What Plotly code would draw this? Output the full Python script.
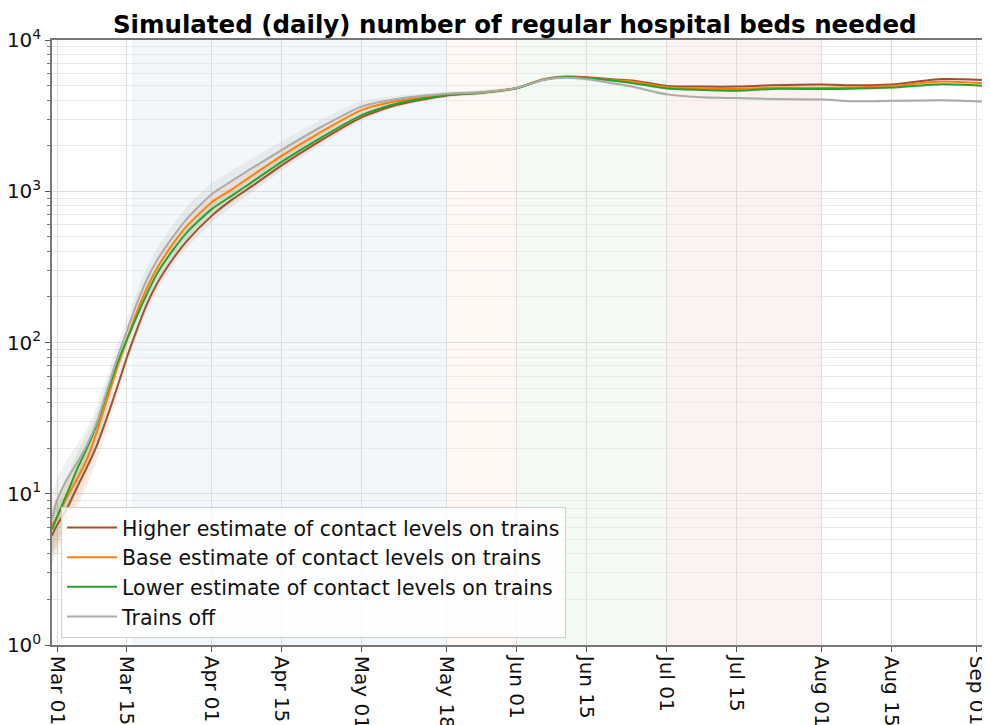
import plotly.graph_objects as go

dates = ["2020-02-29", "2020-03-01", "2020-03-03", "2020-03-05", "2020-03-07", "2020-03-09",
         "2020-03-11", "2020-03-13", "2020-03-15", "2020-03-17", "2020-03-19", "2020-03-21",
         "2020-03-24", "2020-03-27", "2020-04-01", "2020-04-05", "2020-04-09", "2020-04-15",
         "2020-04-22", "2020-05-01", "2020-05-08", "2020-05-18", "2020-05-25", "2020-06-01",
         "2020-06-06", "2020-06-10", "2020-06-15", "2020-06-20", "2020-06-24", "2020-07-01",
         "2020-07-08", "2020-07-15", "2020-07-22", "2020-08-01", "2020-08-08", "2020-08-15",
         "2020-08-25", "2020-09-02"]

higher = [5.3, 6.2, 8, 11, 15, 21, 32, 50, 80, 122, 180, 245, 350, 470, 690, 880, 1080, 1490,
          2090, 3090, 3730, 4300, 4480, 4820, 5470, 5720, 5680, 5500, 5400, 4970, 4920, 4920,
          5020, 5080, 5020, 5080, 5520, 5440]
base = [6.2, 7, 9.5, 12.5, 17, 26, 42, 68, 105, 160, 230, 310, 440, 590, 850, 1030, 1270, 1720,
        2380, 3450, 3950, 4380, 4500, 4820, 5450, 5680, 5620, 5430, 5310, 4870, 4770, 4740,
        4840, 4840, 4870, 4970, 5310, 5170]
lower = [5.8, 7, 10, 14.5, 20, 29, 46, 72, 105, 150, 210, 285, 400, 535, 765, 935, 1150, 1570,
         2180, 3200, 3800, 4330, 4490, 4800, 5430, 5680, 5600, 5400, 5200, 4780, 4680, 4620,
         4750, 4740, 4770, 4850, 5100, 4990]
trains_off = [6.8, 9, 12.5, 16, 21, 30, 48, 78, 120, 182, 262, 350, 490, 660, 960, 1170, 1420,
              1880, 2570, 3640, 4080, 4420, 4520, 4820, 5420, 5620, 5500, 5180, 4920, 4370,
              4180, 4130, 4070, 4040, 3930, 3960, 4000, 3920]

# relative half-width of the shaded uncertainty bands
spread_trains = [0.4, 0.4, 0.35, 0.32, 0.3, 0.28, 0.25, 0.22, 0.2, 0.2, 0.2, 0.2, 0.2, 0.2,
                 0.18, 0.17, 0.16, 0.14, 0.12, 0.08, 0.05, 0.03, 0.03, 0.02, 0.02, 0.02, 0.02,
                 0.02, 0.02, 0.02, 0.02, 0.02, 0.02, 0.02, 0.02, 0.02, 0.02, 0.02]
spread_other = [0.35, 0.35, 0.3, 0.27, 0.24, 0.2, 0.17, 0.14, 0.12, 0.1, 0.1, 0.1, 0.1, 0.1,
                0.1, 0.1, 0.09, 0.08, 0.07, 0.05, 0.04, 0.03, 0.03, 0.02, 0.02, 0.02, 0.02,
                0.02, 0.02, 0.02, 0.02, 0.02, 0.02, 0.02, 0.02, 0.02, 0.02, 0.02]

series_names = ["Higher estimate of contact levels on trains",
                "Base estimate of contact levels on trains",
                "Lower estimate of contact levels on trains",
                "Trains off"]
series_values = [higher, base, lower, trains_off]
series_spread = [spread_other, spread_other, spread_other, spread_trains]
line_colors = ["#a0522d", "#ff7f0e", "#2ca02c", "#ababab"]
band_colors = ["rgba(160,82,45,0.10)", "rgba(255,127,14,0.10)",
               "rgba(44,160,44,0.10)", "rgba(150,150,150,0.13)"]

periods = [("2020-03-16", "2020-05-18", "rgba(31,119,180,0.06)"),
           ("2020-05-18", "2020-06-01", "rgba(255,127,14,0.06)"),
           ("2020-06-01", "2020-07-01", "rgba(44,160,44,0.06)"),
           ("2020-07-01", "2020-08-01", "rgba(214,39,40,0.06)")]

x_ticks = ["2020-03-01", "2020-03-15", "2020-04-01", "2020-04-15", "2020-05-01", "2020-05-18",
           "2020-06-01", "2020-06-15", "2020-07-01", "2020-07-15", "2020-08-01", "2020-08-15",
           "2020-09-01"]
y_ticks = [1, 10, 100, 1000, 10000]
y_ticktext = ["10<sup>0</sup>", "10<sup>1</sup>", "10<sup>2</sup>", "10<sup>3</sup>", "10<sup>4</sup>"]
y_minor = [m * d for d in [1, 10, 100, 1000] for m in range(2, 10)]

fig = go.Figure()

# bands
for vals, spr, bc in zip(series_values, series_spread, band_colors):
    lo = [v * (1 - s) for v, s in zip(vals, spr)]
    hi = [v * (1 + s) for v, s in zip(vals, spr)]
    fig.add_trace(go.Scatter(x=dates, y=lo, mode="lines", line=dict(width=0, shape="spline"),
                             showlegend=False, hoverinfo="skip"))
    fig.add_trace(go.Scatter(x=dates, y=hi, mode="lines", line=dict(width=0, shape="spline"),
                             fill="tonexty", fillcolor=bc, showlegend=False, hoverinfo="skip"))

for name, vals, lc in zip(series_names, series_values, line_colors):
    fig.add_trace(go.Scatter(x=dates, y=vals, mode="lines", name=name,
                             line=dict(color=lc, width=2, shape="spline", smoothing=0.6)))

for start, end, col in periods:
    fig.add_shape(type="rect", xref="x", yref="paper", x0=start, x1=end, y0=0, y1=1,
                  fillcolor=col, line=dict(width=0), layer="below")

# page body has an 8px margin, so the figure is 8px smaller and the plot area is shifted
fig.update_layout(
    width=982, height=717,
    margin=dict(l=44, r=6, t=32, b=80),
    paper_bgcolor="white", plot_bgcolor="white",
    font=dict(family="DejaVu Sans", size=20, color="#111111"),
    title=dict(text="<b>Simulated (daily) number of regular hospital beds needed</b>",
               x=0.516, xanchor="center", y=1 - 16 / 717, yanchor="middle",
               font=dict(family="DejaVu Sans", size=24.5, color="black")),
    legend=dict(x=0.0097, y=0.012, xanchor="left", yanchor="bottom", traceorder="normal",
                itemwidth=50,
                bgcolor="rgba(255,255,255,0.8)", bordercolor="#d0d0d0", borderwidth=1,
                font=dict(size=20.5, family="DejaVu Sans", color="#111111")),
    showlegend=True,
)

fig.update_xaxes(
    type="date", range=["2020-02-29", "2020-09-02 10:00"],
    tickvals=x_ticks, tickformat="%b %d", tickangle=90,
    ticks="outside", ticklen=5, tickcolor="#555555",
    showgrid=True, gridcolor="#dddddd", gridwidth=1,
    showline=True, linecolor="#777777", linewidth=1.5, mirror=True,
    automargin=False, zeroline=False,
)
fig.update_yaxes(
    type="log", range=[0, 4],
    tickvals=y_ticks, ticktext=y_ticktext,
    ticks="outside", ticklen=5, tickcolor="#555555",
    showgrid=True, gridcolor="#dddddd", gridwidth=1,
    minor=dict(tickvals=y_minor, ticks="outside", ticklen=3, tickcolor="#777777",
               showgrid=True, gridcolor="#e9e9e9", gridwidth=1),
    showline=True, linecolor="#777777", linewidth=1.5, mirror=True,
    automargin=False, zeroline=False,
)

fig.write_html("out.html")
